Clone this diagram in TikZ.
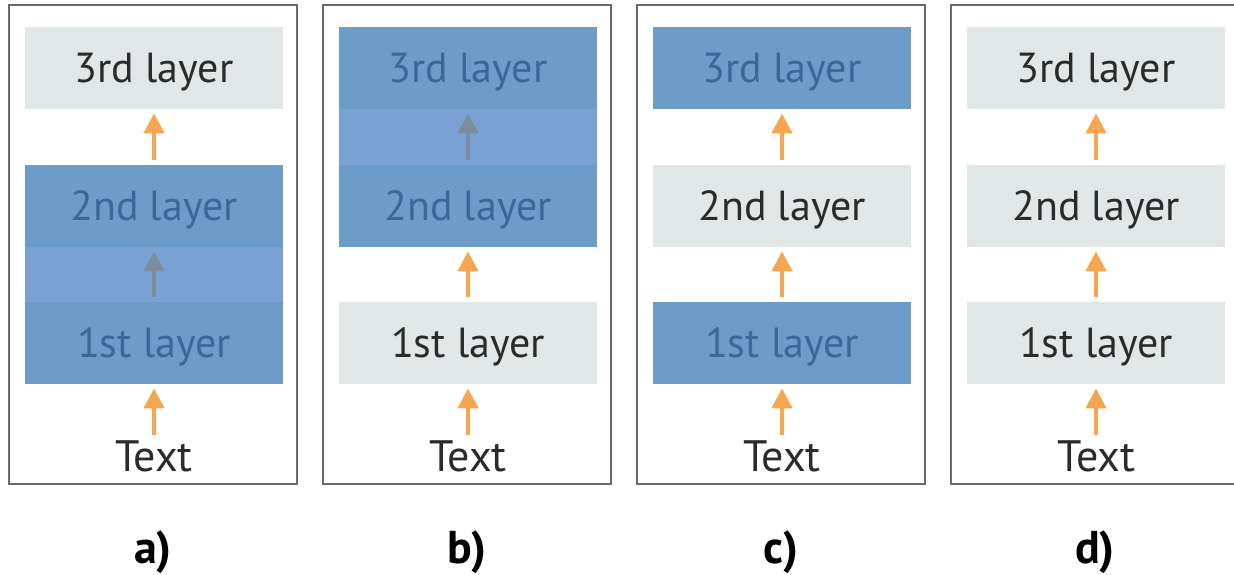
\documentclass[tikz,border=0pt]{standalone}
\usepackage{fontspec}
\setmainfont{PT Sans}
\usetikzlibrary{arrows.meta}

\definecolor{frozengray}{HTML}{E1E6E6}
\definecolor{trainblue}{HTML}{6E9CC8}
\definecolor{bandblue}{HTML}{79A1D4}
\definecolor{bluetext}{HTML}{3E6699}
\definecolor{darktext}{HTML}{2B2B2B}
\definecolor{arroworange}{HTML}{F7A54E}
\definecolor{arrowgray}{HTML}{7B8C9C}
\definecolor{panelline}{HTML}{6A6A6A}

\tikzset{
  layer/.style={minimum width=129pt, minimum height=41pt, inner sep=0pt, text height=14.5pt, text depth=0pt,
                font=\fontsize{21}{25}\selectfont},
  frozen/.style={layer, fill=frozengray, text=darktext},
  trained/.style={layer, fill=trainblue, text=bluetext},
  flow/.style={-{Triangle[width=10pt,length=10pt]}, line width=2.2pt, arroworange, shorten >=2pt, shorten <=2.5pt},
  inner/.style={flow, arrowgray},
  panel/.style={draw=panelline, line width=0.8pt},
}

\begin{document}
\begin{tikzpicture}[x=0.5pt, y=-0.5pt]
  \useasboundingbox (0,0) rectangle (1234,574);
  \foreach \p/\x/\st/\sn/\ss in {a/0/frozen/trained/trained, b/314/trained/trained/frozen,
                                 c/628/trained/frozen/trained, d/942/frozen/frozen/frozen}
  {
    \draw[panel] (\x+9,5) rectangle (\x+297,484);
    \node[\st] (\p3) at (\x+154,68) {3rd layer};
    \node[\sn] (\p2) at (\x+154,206) {2nd layer};
    \node[\ss] (\p1) at (\x+154,343) {1st layer};
    \node[text=darktext, inner sep=0pt, font=\fontsize{22}{26}\selectfont] (\p0) at (\x+154,456) {Text};
    \node[text=black, font=\fontsize{23}{28}\bfseries] (\p lab) at (\x+153,552) {\p)};
  }
  % trained blocks are joined by a lighter band
  \fill[bandblue] (a2.south west) rectangle (a1.north east);
  \fill[bandblue] (b3.south west) rectangle (b2.north east);
  \draw[flow]  (a2) -- (a3);  \draw[inner] (a1) -- (a2);  \draw[flow] (a0) -- (a1);
  \draw[inner] (b2) -- (b3);  \draw[flow]  (b1) -- (b2);  \draw[flow] (b0) -- (b1);
  \draw[flow]  (c2) -- (c3);  \draw[flow]  (c1) -- (c2);  \draw[flow] (c0) -- (c1);
  \draw[flow]  (d2) -- (d3);  \draw[flow]  (d1) -- (d2);  \draw[flow] (d0) -- (d1);
\end{tikzpicture}
\end{document}
